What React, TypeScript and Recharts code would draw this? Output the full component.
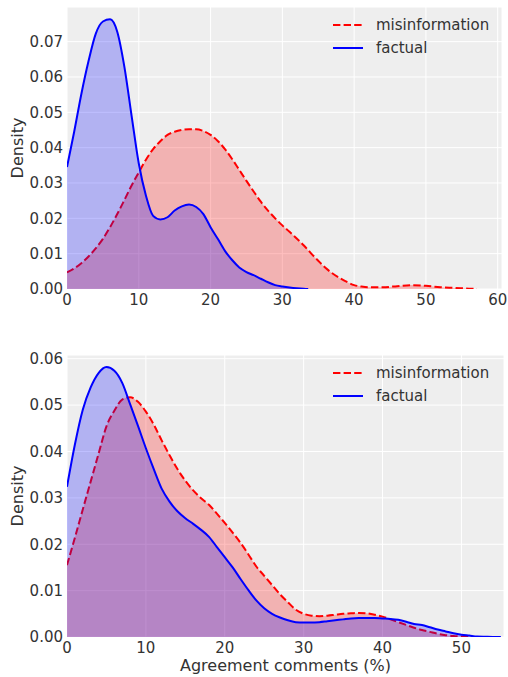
import { ComposedChart, Area, XAxis, YAxis, CartesianGrid, Legend } from 'recharts';

const FONT = '"DejaVu Sans", sans-serif';
const TEXT = '#333333';
const RED = '#ff0000';
const BLUE = '#0000ff';

const SERIES = [
  { key: 'misinformation', color: RED, dashed: true },
  { key: 'factual', color: BLUE, dashed: false },
];

// top panel: KDE of share of comments
const TOP_X = [
  0, 1, 2, 3, 4, 5, 6, 7, 8, 9, 10, 11, 12, 13, 14, 15, 16, 17, 18, 19, 20, 21, 22, 23, 24, 25,
  26, 27, 28, 29, 30, 31, 32, 33, 33.6, 34, 35, 36, 37, 38, 39, 40, 41, 42, 44, 46, 48, 50, 52,
  54, 56, 57.1,
];
const TOP_MISINFO = [
  0.0047, 0.0058, 0.0073, 0.0092, 0.0115, 0.0142, 0.0175, 0.0212, 0.0252, 0.0293, 0.033, 0.0366,
  0.0396, 0.0418, 0.0436, 0.0445, 0.045, 0.0452, 0.0452, 0.0447, 0.0436, 0.0419, 0.0396, 0.0368,
  0.0337, 0.0306, 0.0276, 0.0247, 0.0222, 0.02, 0.018, 0.0162, 0.0143, 0.0123, 0.011, 0.0101,
  0.008, 0.006, 0.0044, 0.0031, 0.002, 0.0011, 0.0007, 0.0005, 0.0005, 0.0008, 0.0011, 0.0009,
  0.0005, 0.0003, 0.0001, 0,
];
const TOP_FACTUAL = [
  0.0345, 0.0445, 0.0552, 0.0645, 0.0722, 0.0757, 0.0763, 0.0728, 0.0628, 0.049, 0.0355, 0.0264,
  0.0207, 0.0197, 0.0203, 0.0222, 0.0234, 0.0239, 0.0232, 0.0212, 0.0175, 0.0142, 0.0108,
  0.0082, 0.0061, 0.0048, 0.0039, 0.0029, 0.0019, 0.0011, 0.0007, 0.0004, 0.0002, 0.0001, 0,
  null, null, null, null, null, null, null, null, null, null, null, null, null, null, null, null,
  null,
];

// bottom panel: Agreement comments (%)
const BOT_X = [
  0, 1, 2, 3, 4, 5, 6, 7, 8, 9, 10, 11, 12, 13, 14, 15, 16, 17, 18, 19, 20, 21, 22, 23, 24, 25,
  26, 27, 28, 29, 30, 31, 32, 33, 34, 35, 36, 37, 38, 39, 40, 41, 42, 43, 44, 45, 46, 47, 48, 49,
  50, 51, 52, 53, 54, 55,
];
const BOT_MISINFO = [
  0.0155, 0.0214, 0.0275, 0.0335, 0.0395, 0.0454, 0.0488, 0.0512, 0.0517, 0.0507, 0.0486, 0.0458,
  0.0424, 0.0392, 0.0362, 0.0337, 0.0316, 0.0299, 0.0285, 0.0266, 0.0246, 0.0225, 0.0203, 0.0178,
  0.0152, 0.0132, 0.0112, 0.0092, 0.0075, 0.0059, 0.005, 0.0046, 0.0045, 0.0046, 0.0048, 0.005,
  0.0051, 0.0052, 0.0051, 0.0048, 0.0044, 0.0038, 0.0032, 0.0026, 0.002, 0.0015, 0.0011, 0.0007,
  0.0004, 0.0002, 0.0001, 0.00003, 0, null, null, null,
];
const BOT_FACTUAL = [
  0.0324, 0.0415, 0.049, 0.0538, 0.0569, 0.0582, 0.0574, 0.0548, 0.0502, 0.0455, 0.0407, 0.0362,
  0.032, 0.0292, 0.0271, 0.0256, 0.0244, 0.0231, 0.0216, 0.0194, 0.0172, 0.015, 0.0125, 0.0101,
  0.0079, 0.0062, 0.005, 0.0042, 0.0036, 0.0032, 0.0031, 0.0031, 0.0032, 0.0034, 0.0036, 0.0038,
  0.004, 0.0041, 0.0041, 0.0041, 0.004, 0.0039, 0.0037, 0.0033, 0.0028, 0.0026, 0.0021, 0.0016,
  0.0012, 0.0008, 0.0005, 0.0003, 0.0001, 0.00005, 0.00002, 0,
];

const TOP_XTICKS = [0, 10, 20, 30, 40, 50, 60];
const TOP_YTICKS = [0, 0.01, 0.02, 0.03, 0.04, 0.05, 0.06, 0.07];
const BOT_XTICKS = [0, 10, 20, 30, 40, 50];
const BOT_YTICKS = [0, 0.01, 0.02, 0.03, 0.04, 0.05, 0.06];

function rows(xs: number[], mis: (number | null)[], fac: (number | null)[]) {
  return xs.map((x, i) => ({ x, misinformation: mis[i], factual: fac[i] }));
}

function LegendBox() {
  return (
    <div style={{ fontFamily: FONT, fontSize: 15, color: TEXT }}>
      {SERIES.map((s) => (
        <div key={s.key} style={{ display: 'flex', alignItems: 'center', height: 23.5 }}>
          <svg width={43} height={10} style={{ flex: 'none' }}>
            <line x1={0} x2={30} y1={5} y2={5} stroke={s.color} strokeWidth={2}
              strokeDasharray={s.dashed ? '7.4 3.2' : undefined} />
          </svg>
          <span>{s.key}</span>
        </div>
      ))}
    </div>
  );
}

interface PanelProps {
  data: any[];
  height: number;
  marginTop: number;
  marginRight: number;
  xMax: number;
  yMax: number;
  xTicks: number[];
  yTicks: number[];
  xAxisHeight: number;
  legendTop: number;
  xLabel?: string;
}

function Panel(p: PanelProps) {
  const tick = { fill: TEXT, fontSize: 15, fontFamily: FONT };
  return (
    <ComposedChart width={508} height={p.height} data={p.data}
      margin={{ top: p.marginTop, right: p.marginRight, bottom: 0, left: 0 }}>
      <CartesianGrid fill="#eeeeee" stroke="#ffffff" strokeWidth={1} />
      <XAxis type="number" dataKey="x" domain={[0, p.xMax]} ticks={p.xTicks} allowDataOverflow
        axisLine={false} tickLine={false} tickSize={0} tickMargin={5} tick={tick}
        height={p.xAxisHeight} interval={0}
        label={p.xLabel ? { value: p.xLabel, position: 'insideBottom', offset: 6, fill: TEXT, fontSize: 16, fontFamily: FONT } : undefined} />
      <YAxis type="number" domain={[0, p.yMax]} ticks={p.yTicks} allowDataOverflow width={67}
        axisLine={false} tickLine={false} tickSize={0} tickMargin={4} tick={tick} interval={0}
        tickFormatter={(v: number) => v.toFixed(2)}
        label={{ value: 'Density', angle: -90, position: 'insideLeft', offset: 17, fill: TEXT, fontSize: 16, fontFamily: FONT, style: { textAnchor: 'middle' } }} />
      <Area type="monotone" dataKey="misinformation" stroke={RED} strokeWidth={2}
        strokeDasharray="7.4 3.2" fill={RED} fillOpacity={0.25} dot={false} activeDot={false}
        isAnimationActive={false} />
      <Area type="monotone" dataKey="factual" stroke={BLUE} strokeWidth={2}
        fill={BLUE} fillOpacity={0.25} dot={false} activeDot={false} isAnimationActive={false} />
      <Legend layout="vertical" align="center" verticalAlign="middle" content={() => <LegendBox />}
        wrapperStyle={{ left: 333, top: p.legendTop, width: 175, height: 47 }} />
    </ComposedChart>
  );
}

export default function App() {
  return (
    <div style={{ position: 'absolute', left: 0, top: 0, width: 508, height: 677, background: '#fff', fontFamily: FONT }}>
      <div style={{ position: 'absolute', left: 0, top: 0 }}>
        <Panel data={rows(TOP_X, TOP_MISINFO, TOP_FACTUAL)} height={320} marginTop={7} marginRight={6}
          xMax={60.6} yMax={0.0798} xTicks={TOP_XTICKS} yTicks={TOP_YTICKS} xAxisHeight={31}
          legendTop={13} />
      </div>
      <div style={{ position: 'absolute', left: 0, top: 340 }}>
        <Panel data={rows(BOT_X, BOT_MISINFO, BOT_FACTUAL)} height={337} marginTop={15} marginRight={4}
          xMax={55.4} yMax={0.0608} xTicks={BOT_XTICKS} yTicks={BOT_YTICKS} xAxisHeight={40}
          legendTop={21} xLabel="Agreement comments (%)" />
      </div>
    </div>
  );
}
